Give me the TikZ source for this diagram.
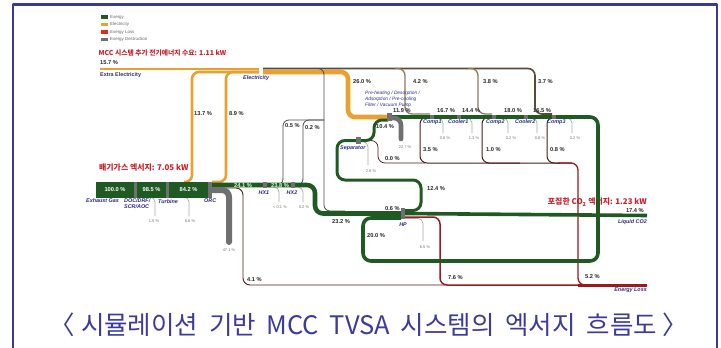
\documentclass[tikz,border=0pt]{standalone}
\usepackage{fontspec}
\setmainfont{Liberation Sans}
\newfontfamily\kr{Noto Sans CJK KR}
\definecolor{framec}{HTML}{3A3A96}
\definecolor{titlec}{HTML}{3B3B9E}
\definecolor{navy}{HTML}{2B2B80}
\definecolor{redt}{HTML}{C8232C}
\definecolor{egreen}{HTML}{1F5A23}
\definecolor{eorange}{HTML}{E9A02F}
\definecolor{eloss}{HTML}{9A1A1E}
\definecolor{emar}{HTML}{4A1E1A}
\definecolor{egray}{HTML}{707070}
\definecolor{etan}{HTML}{8C7B5C}
\definecolor{edark}{HTML}{5A4B36}
\definecolor{eline}{HTML}{4A4A4A}
\definecolor{glight}{HTML}{A8A8A8}
\definecolor{lgred}{HTML}{E02A22}
\tikzset{
  gflow/.style={draw=egreen, line width=#1, rounded corners=8},
  oflow/.style={draw=eorange, line width=#1, rounded corners=7},
  tflow/.style={draw=etan, line width=#1, rounded corners=7},
  kflow/.style={draw=eline, line width=0.8, rounded corners=6},
  dthin/.style={draw=glight, line width=0.7, rounded corners=5},
  dthick/.style={draw=egray, line width=#1, rounded corners=7, line cap=round},
  lflow/.style={draw=eloss, line width=#1, rounded corners=7},
  mflow/.style={draw=emar, line width=#1, rounded corners=7},
  mk/.style={fill=egray, draw=none, inner sep=0pt},
  ebox/.style={fill=egreen, draw=none, inner sep=0pt, text=white, font=\fontsize{5.7}{6}\selectfont\bfseries},
  pct/.style={font=\fontsize{5.7}{6}\selectfont\bfseries, text=black!85, inner sep=0pt, anchor=west},
  tp/.style={font=\fontsize{4}{4.5}\selectfont, text=black!55, inner sep=0pt},
  nm/.style={font=\fontsize{5.4}{6}\selectfont\bfseries\itshape, text=navy, inner sep=0pt, anchor=west},
  lg/.style={font=\fontsize{4.4}{5}\selectfont, text=black!60, inner sep=0pt, anchor=west},
  rt/.style={inner sep=0pt, text=redt},
}
\newcommand{\wsp}{\ \hspace{5pt}}
\begin{document}
\begin{tikzpicture}[x=1pt,y=-1pt,line join=round]
\useasboundingbox (0,0) rectangle (721,348);
\fill[white] (0,0) rectangle (721,348);
\draw[framec, line width=2.6] (13,349) -- (13,4.6) -- (717,4.6) -- (717,349);

% legend
\fill[egreen] (101,15.4) rectangle (108,18.6);
\fill[eorange] (101,22.9) rectangle (108,26.1);
\fill[lgred] (101,30.4) rectangle (108,33.6);
\fill[egray] (101,37.9) rectangle (108,41.1);
\node[lg] (lg1) at (110,17) {Exergy};
\node[lg] (lg2) at (110,24.5) {Electricity};
\node[lg] (lg3) at (110,32) {Exergy Loss};
\node[lg] (lg4) at (110,39.5) {Exergy Destruction};

% headings
\node[rt, anchor=west, font=\kr\bfseries\fontsize{6.8}{8}\selectfont] (hd1) at (98.5,53) {MCC 시스템 추가 전기에너지 수요: 1.11 kW};
\node[rt, anchor=west, font=\kr\bfseries\fontsize{7.9}{9}\selectfont] (hd2) at (99,168) {배기가스 엑서지: 7.05 kW};
\node[rt, anchor=east, font=\kr\bfseries\fontsize{7.9}{9}\selectfont] (hd3) at (647,202) {포집한 CO\textsubscript{2} 엑서지: 1.23 kW};

% coordinates
\coordinate (elec) at (261,69);
\coordinate (orc) at (210,185);
\coordinate (hx1) at (265,185);
\coordinate (hx2) at (293,185);
\coordinate (pre) at (389.5,117);
\coordinate (sep) at (358.5,140.5);
\coordinate (hp) at (403,213.5);
\coordinate (c1) at (432,117);
\coordinate (k1) at (459,117);
\coordinate (c2) at (494,117);
\coordinate (k2) at (526,117);
\coordinate (c3) at (554,117);
\coordinate (lco2) at (647,215.5);
\coordinate (eloss) at (647,285);

% exergy losses
\draw[mflow=0.9] (orc) ++(2,3) -- (243,188) -- (243,285) -- (445,285);
\draw[lflow=1.5] (405,217) -- (440,217) -- (440,285) -- (eloss);
\draw[mflow=1] (k1) -- (420,117) -- (420,163) -- (572,163);
\draw[mflow=1] (k2) -- (482,117) -- (482,163) -- (520,163);
\draw[mflow=1] (c3) -- (547,117) -- (547,163) -- (560,163);
\draw[mflow=0.7] (sep) -- (378,140.5) -- (378,163) -- (425,163);
\draw[lflow=1.3] (558,163) -- (578,163) -- (578,285) -- (600,285);
\draw[eloss, line width=3] (578,285) -- (eloss);

% thin destruction lines
\draw[dthin] (149,197) -- (155,197) -- (155,216);
\draw[dthin] (183,197) -- (189,197) -- (189,216);
\draw[dthin] (267,187) -- (279,187) -- (279,202);
\draw[dthin] (295,187) -- (303,187) -- (303,202);
\draw[dthin] (sep) -- (368,142) -- (368,165);
\draw[dthin] (405,218.5) -- (423,218.5) -- (423,241);
\draw[dthin] (c1) ++(2,1) -- (443,118) -- (443,133);
\draw[dthin] (k1) ++(2,1) -- (472,118) -- (472,133);
\draw[dthin] (c2) ++(2,1) -- (508,118) -- (508,133);
\draw[dthin] (k2) ++(2,1) -- (537,118) -- (537,133);
\draw[dthin] (c3) ++(2,1) -- (572,118) -- (572,133);

% electricity
\draw[oflow=2.8] (100,69) -- (259,69);
\draw[oflow=2.6] (184,182) -- (192,182) -- (192,72) -- (259,72);
\draw[oflow=2.6] (212,182) -- (226,182) -- (226,72) -- (259,72);
\draw[oflow=4.6] (263,72) -- (348,72) -- (348,117) -- (pre);
\draw[tflow=1.6, draw=edark] (263,68.5) -- (535,68.5) -- (535,114) -- (552,114);
\draw[tflow=1.3] (395,68.5) -- (405,68.5) -- (405,114) -- (430,114);
\draw[tflow=1.3] (468,68.5) -- (478,68.5) -- (478,114) -- (492,114);
\draw[kflow] (314,68.5) -- (324,68.5) -- (324,211) -- (345,211);
\draw[kflow] (324,120) -- (283,120) -- (283,185) -- (hx1);
\draw[kflow] (324,120) -- (303,120) -- (303,185) -- (hx2);

% exergy (green)
\draw[gflow=4.6] (orc) -- (315,185) -- (315,213.5) -- (hp);
\draw[gflow=3.6] (hp) -- (lco2);
\draw[gflow=3.6] (pre) -- (598,117) -- (598,261) -- (363,261) -- (363,218) -- (401,218);
\draw[gflow=3] (388,120) -- (374,120) -- (374,140.5) -- (sep);
\draw[gflow=3] (sep) -- (337,140.5) -- (337,180) -- (421,180) -- (421,210.5) -- (405,210.5);

% thick destruction
\draw[dthick=6] (212,190) -- (229,190) -- (229,242);
\draw[dthick=4.6] (392,118) -- (401,118) -- (401,139);

% boxes and markers
\node[ebox, minimum width=38, minimum height=15.5] (exh) at (115,189.75) {100.0 \%};
\node[mk, minimum width=3, minimum height=15.5] (m1) at (135.5,189.75) {};
\node[ebox, minimum width=29, minimum height=15.5] (doc) at (151.5,189.75) {98.5 \%};
\node[mk, minimum width=3, minimum height=15.5] (m2) at (167.5,189.75) {};
\node[ebox, minimum width=39, minimum height=15.5] (tur) at (188.5,189.75) {84.2 \%};
\node[mk, minimum width=4, minimum height=15.5] (orcm) at (210,189.75) {};
\node[mk, minimum width=4, minimum height=5.5] (hx1m) at (hx1) {};
\node[mk, minimum width=4, minimum height=5.5] (hx2m) at (hx2) {};
\node[mk, minimum width=5, minimum height=8] (prem) at (pre) {};
\node[mk, minimum width=5, minimum height=7] (sepm) at (sep) {};
\node[mk, minimum width=4, minimum height=11] (hpm) at (hp) {};
\node[mk, minimum width=4, minimum height=4] (c1m) at (c1) {};
\node[mk, minimum width=4, minimum height=4] (k1m) at (k1) {};
\node[mk, minimum width=4, minimum height=4] (c2m) at (c2) {};
\node[mk, minimum width=4, minimum height=4] (k2m) at (k2) {};
\node[mk, minimum width=4, minimum height=4] (c3m) at (c3) {};

% labels
\node[pct] (t1) at (100,62.5) {15.7 \%};
\node[nm, font=\fontsize{5.4}{6}\selectfont\bfseries] (t2) at (100,75) {Extra Electricity};
\node[nm] (t3) at (243,78.5) {Electricity};
\node[pct] (t4) at (194,114) {13.7 \%};
\node[pct] (t5) at (229,114) {8.9 \%};
\node[pct] (t6) at (353,82) {26.0 \%};
\node[pct] (t7) at (413,82) {4.2 \%};
\node[pct] (t8) at (483,82) {3.8 \%};
\node[pct] (t9) at (538,82) {3.7 \%};
\node[nm, anchor=north west, align=left, font=\fontsize{4.8}{6}\selectfont\itshape] (t10) at (365,91) {Pre-heating / Desorption /\\Adsorption / Pre-cooling\\Filter / Vacuum Pump};
\node[pct] (t11) at (393,111) {11.9 \%};
\node[pct] (t12) at (437,111) {16.7 \%};
\node[pct] (t13) at (462,111) {14.4 \%};
\node[pct] (t14) at (504,111) {18.0 \%};
\node[pct] (t15) at (533,111) {16.5 \%};
\node[nm] (t16) at (423,122) {Comp1};
\node[nm] (t17) at (448,122) {Cooler1};
\node[nm] (t18) at (486,122) {Comp2};
\node[nm] (t19) at (515,122) {Cooler2};
\node[nm] (t20) at (547,122) {Comp3};
\node[tp] (t21) at (445,138) {0.6 \%};
\node[tp] (t22) at (474,138) {1.3 \%};
\node[tp] (t23) at (511,138) {0.2 \%};
\node[tp] (t24) at (540,138) {0.8 \%};
\node[tp] (t25) at (575,138) {0.2 \%};
\node[pct] (t26) at (376,127) {10.4 \%};
\node[nm] (t27) at (340,148) {Separator};
\node[tp] (t28) at (371,171) {2.8 \%};
\node[tp] (t29) at (405,147) {22.7 \%};
\node[pct] (t30) at (385,159) {0.0 \%};
\node[pct] (t31) at (423,150) {3.5 \%};
\node[pct] (t32) at (486,150) {1.0 \%};
\node[pct] (t33) at (550,150) {0.8 \%};
\node[pct] (t34) at (285,126) {0.5 \%};
\node[pct] (t35) at (305,128) {0.2 \%};
\node[pct] (t36) at (427,189) {12.4 \%};
\node[pct] (t37) at (385,208.5) {0.6 \%};
\node[pct] (t38) at (332,222) {23.2 \%};
\node[nm, anchor=center] (t39) at (403,225) {HP};
\node[pct] (t40) at (367,236) {20.0 \%};
\node[tp] (t41) at (425,247) {6.5 \%};
\node[pct] (t42) at (448,278) {7.6 \%};
\node[pct] (t43) at (247,280) {4.1 \%};
\node[pct] (t44) at (585,277) {5.2 \%};
\node[pct, anchor=east] (t45) at (644,211) {17.4 \%};
\node[nm, anchor=east] (t46) at (647,222) {Liquid CO2};
\node[nm, anchor=east] (t47) at (647,290) {Energy Loss};
\node[tp] (t48) at (229,250) {47.1 \%};
\node[tp] (t49) at (280,207) {< 0.1 \%};
\node[tp] (t50) at (304,207) {0.2 \%};
\node[nm, anchor=center] (t51) at (264,193) {HX1};
\node[nm, anchor=center] (t52) at (292,193) {HX2};
\node[pct, anchor=center, text=green!15!white] (t53) at (243,185.3) {24.1 \%};
\node[pct, anchor=center, text=green!15!white] (t54) at (280,185.3) {23.8 \%};
\node[nm] (t55) at (86,201) {Exhaust Gas};
\node[nm, anchor=north west, align=left] (t56) at (124,198) {DOC/DRF/\\SCR/AOC};
\node[nm] (t57) at (158,202) {Turbine};
\node[nm] (t58) at (204,201) {ORC};
\node[tp] (t59) at (154,221) {1.5 \%};
\node[tp] (t60) at (190,221) {8.6 \%};

% title
\node[inner sep=0pt, text=titlec, font=\kr\fontsize{25.5}{30}\selectfont] (title) at (369,325) {〈 시뮬레이션\wsp 기반\wsp MCC\wsp TVSA\wsp 시스템의\wsp 엑서지\wsp 흐름도 〉};
\end{tikzpicture}
\end{document}
